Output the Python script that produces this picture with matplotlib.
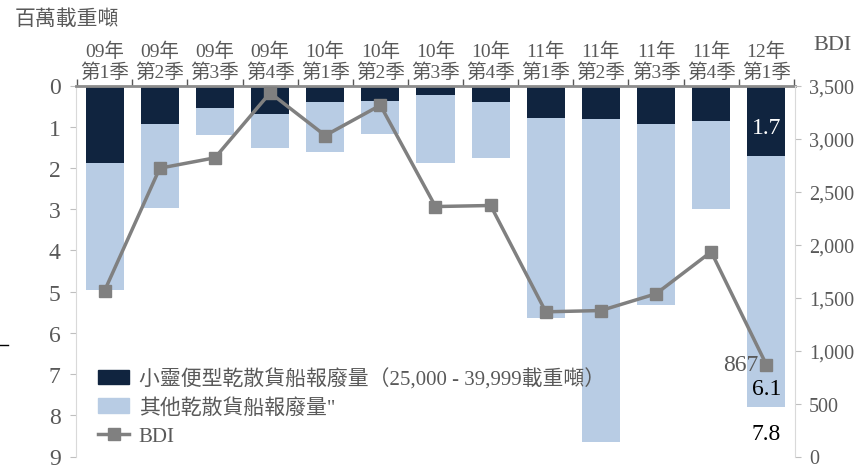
import numpy as np
import matplotlib.pyplot as plt
from matplotlib.patches import Patch
from matplotlib.lines import Line2D

plt.rcParams['font.family'] = ['Liberation Serif', 'Noto Sans CJK TC', 'DejaVu Sans']

# Quarterly scrapping (million dwt) and average BDI
years = ['09年', '09年', '09年', '09年', '10年', '10年', '10年', '10年',
         '11年', '11年', '11年', '11年', '12年']
quarters = ['第1季', '第2季', '第3季', '第4季', '第1季', '第2季', '第3季', '第4季',
            '第1季', '第2季', '第3季', '第4季', '第1季']
handysize = [1.88, 0.93, 0.55, 0.68, 0.39, 0.38, 0.22, 0.39, 0.80, 0.81, 0.93, 0.85, 1.7]
other = [3.08, 2.04, 0.65, 0.83, 1.22, 0.80, 1.65, 1.37, 4.83, 7.85, 4.39, 2.15, 6.1]
bdi = [1566, 2720, 2818, 3431, 3028, 3314, 2358, 2368, 1365, 1377, 1535, 1931, 867]

navy = '#10243f'
light = '#b8cce4'
grey = '#808080'
txt = '#595959'

fig = plt.figure(figsize=(8.56, 4.77), dpi=100)
ax = fig.add_axes([76 / 856, 1 - 457.5 / 477, (795 - 76) / 856, (457.5 - 86.5) / 477])

x = np.arange(len(years))
ax.bar(x, handysize, width=0.69, color=navy, zorder=2)
ax.bar(x, other, width=0.69, bottom=handysize, color=light, zorder=2)
ax.set_ylim(9, 0)
ax.set_xlim(-0.52, 12.52)

# category axis sits on top (value 0 of the inverted axis)
ax.xaxis.tick_top()
ax.set_xticks(x)
ax.set_xticklabels([f'{y}\n{q}' for y, q in zip(years, quarters)],
                   fontsize=14, color=txt, linespacing=1.2)
ax.tick_params(axis='x', which='major', length=0, pad=3)
ax.set_xticks(np.arange(-0.5, 13, 1), minor=True)
ax.tick_params(axis='x', which='minor', length=5, color=txt, width=1, top=True)

ax.set_yticks(range(10))
ax.tick_params(axis='y', labelsize=17, labelcolor=txt, length=4, color='#bfbfbf', pad=7)

for s in ['bottom', 'right']:
    ax.spines[s].set_visible(False)
ax.spines['top'].set_color('#8c8c8c')
ax.spines['top'].set_linewidth(2)
ax.spines['left'].set_color('#d9d9d9')

# BDI line on the right axis
ax2 = ax.twinx()
ax2.plot(x, bdi, color=grey, lw=2.5, marker='s', ms=9, zorder=3)
ax2.set_ylim(0, 3500)
ax2.set_yticks(range(0, 3501, 500))
ax2.set_yticklabels([f'{v:,}' for v in range(0, 3501, 500)])
ax2.tick_params(axis='y', labelsize=14.5, labelcolor=txt, length=4, color='#bfbfbf', pad=6)
for s in ['top', 'bottom', 'left']:
    ax2.spines[s].set_visible(False)
ax2.spines['right'].set_color('#d9d9d9')

# value labels for the latest quarter
last = len(x) - 1
total = handysize[last] + other[last]
ax.text(x[last], handysize[last] * 0.6, f'{handysize[last]:.1f}', color='white',
        fontsize=17, ha='center', va='center', zorder=4)
ax.text(x[last], total - 0.45, f'{other[last]:.1f}', color='black',
        fontsize=17, ha='center', va='center', zorder=4)
ax.text(x[last], total + 0.65, f'{total:.1f}', color='black',
        fontsize=17, ha='center', va='center', zorder=4, clip_on=False)
ax2.annotate(f'{bdi[last]}', (x[last], bdi[last]), xytext=(-6, 0),
             textcoords='offset points', ha='right', va='center',
             fontsize=17, color=txt, zorder=4)

handles = [Patch(color=navy), Patch(color=light),
           Line2D([], [], color=grey, lw=2.5, marker='s', ms=9)]
labels = ['小靈便型乾散貨船報廢量（25,000 - 39,999載重噸）', '其他乾散貨船報廢量"', 'BDI']
leg = ax2.legend(handles, labels, loc='upper left',
                 bbox_to_anchor=(98 / 856, 1 - 369 / 477), bbox_transform=fig.transFigure,
                 frameon=False, fontsize=15, handlelength=1.5, handletextpad=0.45,
                 labelspacing=0.42, borderpad=0, borderaxespad=0)
for t in leg.get_texts():
    t.set_color(txt)

fig.text(15 / 856, 1 - 20 / 477, '百萬載重噸', fontsize=15, color=txt, va='center')
fig.text(832 / 856, 1 - 45 / 477, 'BDI', fontsize=16, color=txt, va='center', ha='center')
fig.add_artist(Line2D([0, 8 / 856], [1 - 346 / 477] * 2, color='black', lw=1))

fig.savefig('out.png', dpi=100)
